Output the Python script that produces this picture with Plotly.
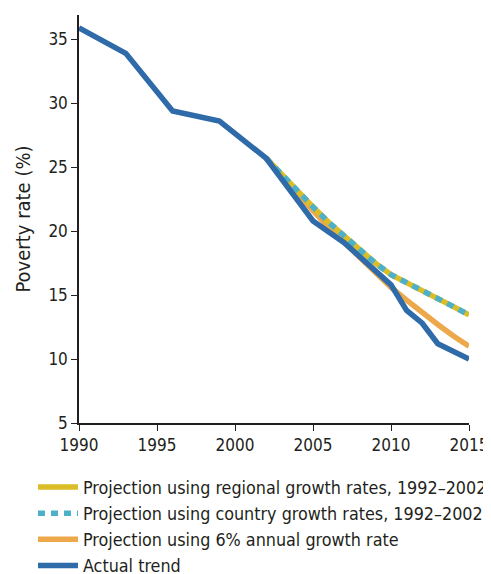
import plotly.graph_objects as go

actual_years = [1990, 1993, 1996, 1999, 2002, 2005, 2007, 2008, 2010, 2011, 2012, 2013, 2015]
actual_vals = [35.9, 33.9, 29.4, 28.6, 25.7, 20.8, 19.1, 18.0, 15.8, 13.8, 12.8, 11.2, 10.0]

proj_years = [2002, 2003, 2004, 2005, 2006, 2007, 2008, 2009, 2010, 2011, 2012, 2013, 2014, 2015]
regional_vals = [25.7, 24.4, 23.1, 21.9, 20.7, 19.6, 18.5, 17.5, 16.6, 16.0, 15.4, 14.8, 14.1, 13.45]
country_vals = [25.7, 24.4, 23.1, 21.9, 20.7, 19.6, 18.5, 17.5, 16.6, 16.0, 15.4, 14.8, 14.1, 13.45]
six_pct_vals = [25.7, 24.3, 22.9, 21.6, 20.3, 19.1, 17.9, 16.8, 15.6, 14.6, 13.6, 12.7, 11.8, 11.0]

names = [
    "Projection using regional growth rates, 1992\u20132002",
    "Projection using country growth rates, 1992\u20132002",
    "Projection using 6% annual growth rate",
    "Actual trend",
]

x_ticks = [1990, 1995, 2000, 2005, 2010, 2015]
y_ticks = [5, 10, 15, 20, 25, 30, 35]

C_YEL = "#dbbd27"
C_CYAN = "#4cb0c8"
C_ORA = "#eda84b"
C_BLUE = "#2f6aa9"

LW = 5.5

fig = go.Figure()
fig.add_trace(go.Scatter(x=proj_years, y=six_pct_vals, mode="lines", name=names[2],
                         line=dict(color=C_ORA, width=LW), legendrank=3))
fig.add_trace(go.Scatter(x=proj_years, y=regional_vals, mode="lines", name=names[0],
                         line=dict(color=C_YEL, width=LW), legendrank=1))
fig.add_trace(go.Scatter(x=proj_years, y=country_vals, mode="lines", name=names[1],
                         line=dict(color=C_CYAN, width=LW, dash="7px,6px"), legendrank=2))
fig.add_trace(go.Scatter(x=actual_years, y=actual_vals, mode="lines", name=names[3],
                         line=dict(color=C_BLUE, width=LW), legendrank=4))

font_family = "DejaVu Sans Condensed, sans-serif"

# page has an 8px body margin, so the figure is sized to end at the window edge
FIG_W, FIG_H = 483, 566

fig.update_layout(
    width=FIG_W, height=FIG_H,
    margin=dict(l=71, r=22, t=7, b=151, autoexpand=False),
    paper_bgcolor="white", plot_bgcolor="white",
    font=dict(family=font_family, size=17, color="#231f20"),
    showlegend=True,
    legend=dict(xref="paper", yref="container", x=-0.118, y=1 - 461 / FIG_H,
                xanchor="left", yanchor="top",
                font=dict(size=17.8), tracegroupgap=0, itemwidth=40,
                bgcolor="rgba(0,0,0,0)"),
    xaxis=dict(range=[1990, 2015], tickvals=x_ticks, showgrid=False, zeroline=False,
               showline=True, linecolor="#231f20", linewidth=1.5, automargin=False,
               ticks="outside", ticklen=6, tickcolor="#231f20"),
    yaxis=dict(range=[5, 36.9], tickvals=y_ticks, showgrid=False, zeroline=False,
               showline=True, linecolor="#231f20", linewidth=1.5, automargin=False,
               ticks="outside", ticklen=6, tickcolor="#231f20",
               title=dict(text="Poverty rate (%)", standoff=12)),
)

fig.write_html("out.html")
